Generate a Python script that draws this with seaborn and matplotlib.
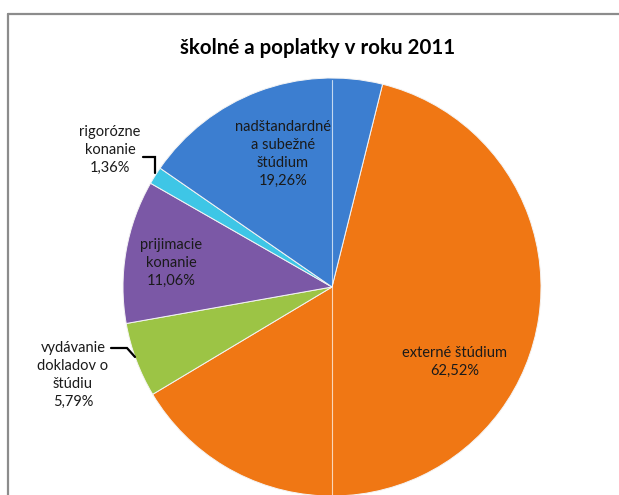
import matplotlib
matplotlib.use("Agg")
import matplotlib.pyplot as plt
import seaborn as sns

sns.set_style("white")
plt.rcParams['font.family'] = ['Lato', 'DejaVu Sans']

categories = ["externé štúdium", "vydávanie\ndokladov o\nštúdiu", "prijimacie\nkonanie",
              "rigorózne\nkonanie", "nadštandardné\na subežné\nštúdium"]
values = [62.52, 5.79, 11.06, 1.36, 19.26]
pct_labels = ["62,52%", "5,79%", "11,06%", "1,36%", "19,26%"]
colors = sns.color_palette(["#F07714", "#9CC445", "#7B58A6", "#3EC6E6", "#3C7ED0"])
title = "školné a poplatky v roku 2011"

W, H = 619, 495
fig = plt.figure(figsize=(W / 100, H / 100), dpi=100)
ax = fig.add_axes([0, 0, 1, 1])

cx, cy, r = 332, H - 287, 209
wedges, _ = ax.pie(values, colors=colors, startangle=76, counterclock=False,
                   center=(cx, cy), radius=r, frame=True,
                   wedgeprops=dict(edgecolor="#f4f4f4", linewidth=0.7))
ax.set_xlim(0, W)
ax.set_ylim(0, H)
ax.set_aspect("equal")
ax.axis("off")

# vertical light artifact line
ax.plot([cx, cx], [cy + r - 2, 0], color="white", lw=0.8, alpha=0.7)

fs = 10.5
ls = 1.35
tc = "#1a1a1a"
# inside labels
ax.text(455, H - 362, categories[0] + "\n" + pct_labels[0], ha="center", va="center",
        fontsize=fs, color=tc, linespacing=ls)
ax.text(171, H - 263, categories[2] + "\n" + pct_labels[2], ha="center", va="center",
        fontsize=fs, color=tc, linespacing=ls)
ax.text(283, H - 154, categories[4] + "\n" + pct_labels[4], ha="center", va="center",
        fontsize=fs, color=tc, linespacing=ls)
# outside labels
ax.text(110, H - 150, categories[3] + "\n" + pct_labels[3], ha="center", va="center",
        fontsize=fs, color=tc, linespacing=ls)
ax.text(73, H - 375, categories[1] + "\n" + pct_labels[1], ha="center", va="center",
        fontsize=fs, color=tc, linespacing=ls)

# leader lines
ax.plot([143, 155, 155], [H - 157, H - 157, H - 173], color="black", lw=1.6,
        solid_joinstyle="miter")
ax.plot([111, 127, 135], [H - 348, H - 348, H - 357], color="black", lw=1.6,
        solid_joinstyle="miter")

ax.text(318, H - 48, title, ha="center", va="center", fontsize=14.8, fontweight="bold",
        color="black")

# chart frame
ax.plot([8, W], [H - 14, H - 14], color="#8c8c8c", lw=1.6, clip_on=False)
ax.plot([8, 8], [H - 14, 0], color="#8c8c8c", lw=1.6, clip_on=False)

fig.savefig("out.png", dpi=100)
